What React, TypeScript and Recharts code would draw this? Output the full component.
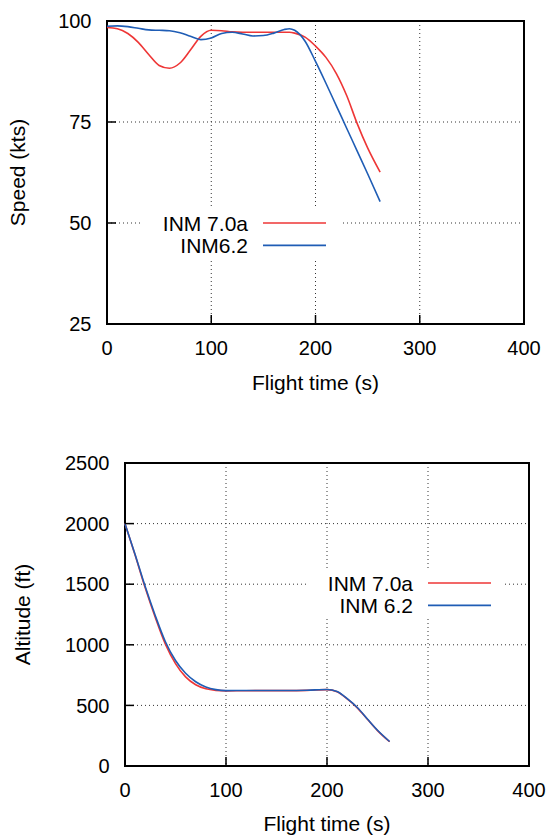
import React from 'react';
import {
  LineChart,
  Line,
  XAxis,
  YAxis,
  CartesianGrid,
  ReferenceArea,
  Legend,
  Label,
} from 'recharts';

// Speed vs flight time
const speedTime = [0, 10, 20, 30, 40, 50, 60, 70, 80, 90, 100, 110, 120, 130, 140, 150, 160, 170, 175, 180, 190, 200, 210, 220, 230, 240, 250, 262];
const speedInm70 = [98.4, 98.1, 96.9, 94.7, 91.7, 89.0, 88.3, 89.6, 92.8, 96.2, 97.7, 97.6, 97.3, 97.2, 97.2, 97.2, 97.2, 97.2, 97.2, 97.0, 96.0, 93.8, 91.0, 87.0, 81.5, 74.6, 68.6, 62.6];
const speedInm62 = [98.7, 98.8, 98.6, 98.2, 97.8, 97.7, 97.6, 97.1, 96.2, 95.4, 95.8, 96.9, 97.2, 96.8, 96.3, 96.4, 97.0, 97.9, 98.1, 97.7, 95.0, 90.0, 84.6, 79.0, 73.4, 67.8, 62.2, 55.3];

// Altitude vs flight time
const altTime = [0, 10, 20, 30, 40, 50, 60, 70, 80, 90, 100, 120, 140, 160, 180, 200, 210, 220, 230, 240, 250, 262];
const altInm70 = [2000, 1740, 1470, 1225, 1005, 845, 735, 670, 637, 624, 620, 621, 622, 622, 624, 630, 612, 553, 480, 385, 292, 200];
const altInm62 = [2000, 1745, 1480, 1240, 1025, 870, 765, 695, 652, 630, 622, 623, 623, 623, 625, 631, 614, 556, 483, 388, 295, 202];

const xTicks = [0, 100, 200, 300, 400];
const speedTicks = [25, 50, 75, 100];
const altTicks = [0, 500, 1000, 1500, 2000, 2500];

const RED = '#ee3636';
const BLUE = '#1f5db5';
const FONT = '"Liberation Sans", Arial, sans-serif';

const speedData = speedTime.map((t, i) => ({ t, a: speedInm70[i], b: speedInm62[i] }));
const altData = altTime.map((t, i) => ({ t, a: altInm70[i], b: altInm62[i] }));

// white legend box, like gnuplot's "key box opaque"
function BoxLegend({ payload }: any) {
  return (
    <svg width={198} height={50} style={{ display: 'block', background: '#fff' }}>
      {(payload || []).map((p: any, i: number) => (
        <g key={p.value}>
          <text x={106} y={14 + i * 22.4} textAnchor="end" dominantBaseline="central" fontSize={21} fontFamily={FONT} fill="#000">
            {p.value}
          </text>
          <line x1={121} x2={184} y1={14 + i * 22.4} y2={14 + i * 22.4} stroke={p.color} strokeWidth={1.6} />
        </g>
      ))}
    </svg>
  );
}

function yTitle(text: string, x: number) {
  return ({ viewBox }: any) => {
    const cy = viewBox.y + viewBox.height / 2;
    return (
      <text x={x} y={cy} transform={`rotate(-90, ${x}, ${cy})`} textAnchor="middle" dominantBaseline="central" fontSize={21} fontFamily={FONT} fill="#000">
        {text}
      </text>
    );
  };
}

function xTitle(text: string, dy: number) {
  return ({ viewBox }: any) => (
    <text x={viewBox.x + viewBox.width / 2} y={viewBox.y + dy} textAnchor="middle" dominantBaseline="central" fontSize={21} fontFamily={FONT} fill="#000">
      {text}
    </text>
  );
}

const tickStyle = { fill: '#000', fontSize: 20, fontFamily: FONT };
const tickLine = { stroke: '#000', strokeWidth: 1.5 };

export default function App() {
  return (
    <div style={{ position: 'absolute', left: 0, top: 0, width: 552, height: 835, background: '#fff', fontFamily: FONT }}>
      <div style={{ position: 'absolute', left: 0, top: 0 }}>
        <LineChart width={552} height={420} data={speedData} margin={{ top: 21, right: 28, left: 0, bottom: 26 }}>
          <CartesianGrid stroke="#333" strokeDasharray="1 3" />
          <XAxis
            dataKey="t"
            type="number"
            domain={[0, 400]}
            ticks={xTicks}
            height={70}
            axisLine={false}
            tickSize={-9}
            tickMargin={26}
            tickLine={tickLine}
            tick={tickStyle}
          >
            <Label content={xTitle('Flight time (s)', 58)} />
          </XAxis>
          <YAxis
            type="number"
            domain={[25, 100]}
            ticks={speedTicks}
            width={107}
            axisLine={false}
            tickSize={-9}
            tickMargin={24.5}
            tickLine={tickLine}
            tick={tickStyle}
          >
            <Label content={yTitle('Speed (kts)', 17)} />
          </YAxis>
          <ReferenceArea x1={0} x2={400} y1={25} y2={100} fill="none" stroke="#000" strokeWidth={2} />
          <Legend
            layout="vertical"
            align="center"
            verticalAlign="middle"
            itemSorter="dataKey"
            content={<BoxLegend />}
            wrapperStyle={{ left: 142, top: 209, width: 198, height: 50 }}
          />
          <Line name="INM 7.0a" dataKey="a" type="monotone" stroke={RED} strokeWidth={1.6} dot={false} isAnimationActive={false} />
          <Line name="INM6.2" dataKey="b" type="monotone" stroke={BLUE} strokeWidth={1.6} dot={false} isAnimationActive={false} />
        </LineChart>
      </div>
      <div style={{ position: 'absolute', left: 0, top: 420 }}>
        <LineChart width={552} height={415} data={altData} margin={{ top: 43, right: 23, left: 0, bottom: 0 }}>
          <CartesianGrid stroke="#333" strokeDasharray="1 3" />
          <XAxis
            dataKey="t"
            type="number"
            domain={[0, 400]}
            ticks={xTicks}
            height={69}
            axisLine={false}
            tickSize={-9}
            tickMargin={26}
            tickLine={tickLine}
            tick={tickStyle}
          >
            <Label content={xTitle('Flight time (s)', 57)} />
          </XAxis>
          <YAxis
            type="number"
            domain={[0, 2500]}
            ticks={altTicks}
            width={125}
            axisLine={false}
            tickSize={-9}
            tickMargin={24.5}
            tickLine={tickLine}
            tick={tickStyle}
          >
            <Label content={yTitle('Altitude (ft)', 22)} />
          </YAxis>
          <ReferenceArea x1={0} x2={400} y1={0} y2={2500} fill="none" stroke="#000" strokeWidth={2} />
          <Legend
            layout="vertical"
            align="center"
            verticalAlign="middle"
            itemSorter="dataKey"
            content={<BoxLegend />}
            wrapperStyle={{ left: 307, top: 149, width: 198, height: 50 }}
          />
          <Line name="INM 7.0a" dataKey="a" type="monotone" stroke={RED} strokeWidth={1.6} dot={false} isAnimationActive={false} />
          <Line name="INM 6.2" dataKey="b" type="monotone" stroke={BLUE} strokeWidth={1.6} dot={false} isAnimationActive={false} />
        </LineChart>
      </div>
    </div>
  );
}
